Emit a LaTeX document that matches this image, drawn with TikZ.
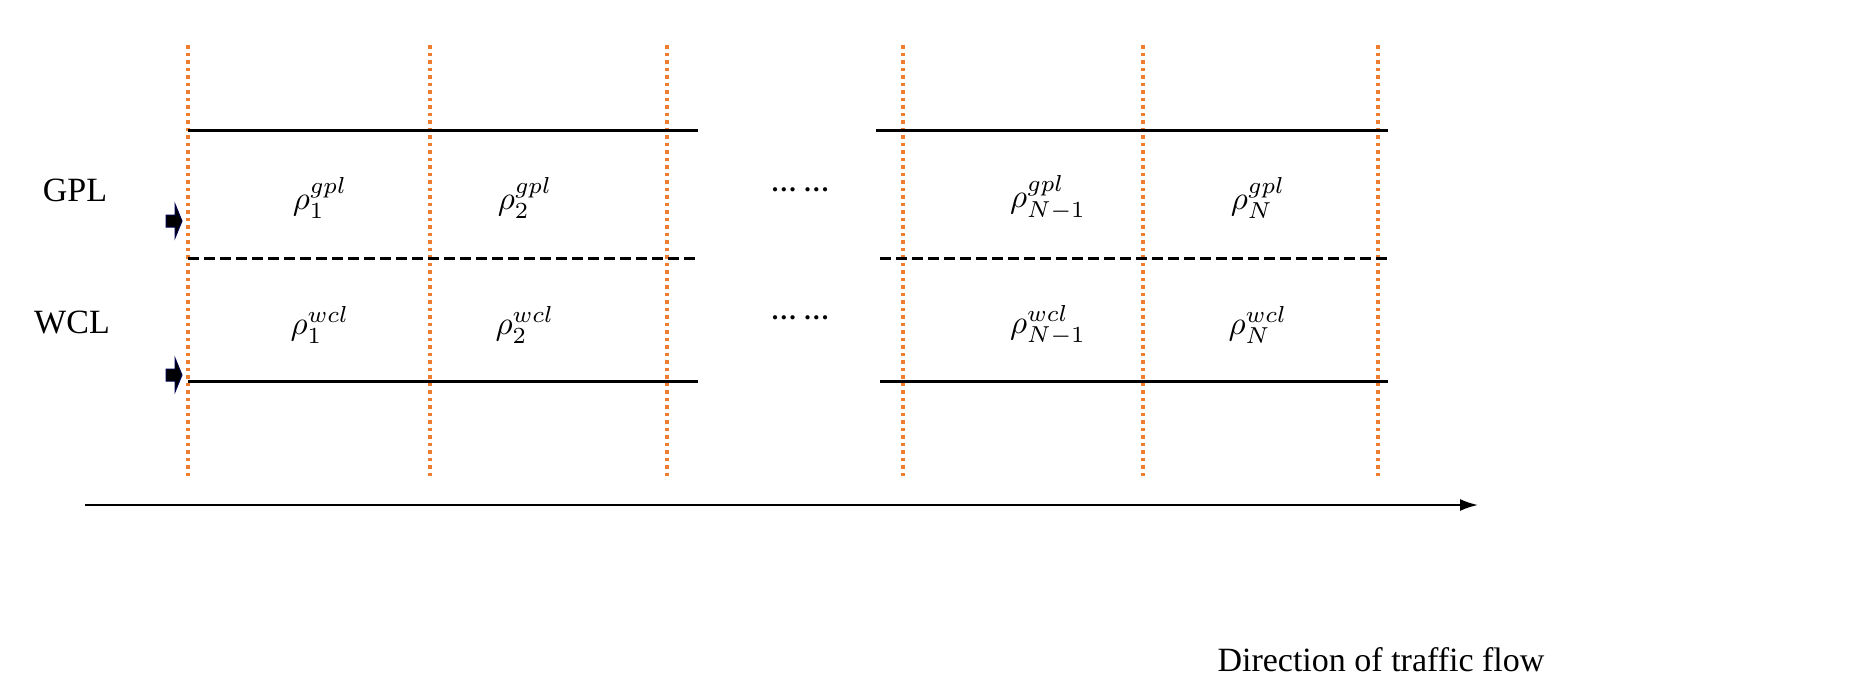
\documentclass[tikz,border=0pt]{standalone}
\usepackage{fontspec}
\setmainfont{Liberation Serif}
\usetikzlibrary{arrows.meta}
\definecolor{org}{RGB}{237,125,49}
\begin{document}
\begin{tikzpicture}[x=1pt,y=-1pt,
  grid/.style={org,line width=3.5pt,dash pattern=on 3.5pt off 4pt},
  lane/.style={black,line width=3pt},
  mid/.style={black,line width=3pt,dash pattern=on 11pt off 5pt},
  lbl/.style={scale=3.3},
  txt/.style={font=\fontsize{34}{40}\selectfont},
  blk/.style={fill=black,draw=black!70!blue,line width=1pt}]
\useasboundingbox (0,0) rectangle (1850,689);
\foreach \x/\n in {188/a,430/b,667/c,903/d,1143/e,1378/f}
  \draw[grid] (\x,45) coordinate (\n t) -- (\x,478) coordinate (\n b);
\coordinate (l1) at (188,130); \coordinate (l2) at (698,130);
\coordinate (r1) at (876,130); \coordinate (r2) at (1388,130);
\coordinate (l3) at (188,258); \coordinate (l4) at (698,258);
\coordinate (r3) at (880,258); \coordinate (r4) at (1392,258);
\coordinate (l5) at (188,381); \coordinate (l6) at (698,381);
\coordinate (r5) at (880,381); \coordinate (r6) at (1388,381);
\draw[lane] (l1)--(l2); \draw[lane] (r1)--(r2);
\draw[mid] (l3)--(l4); \draw[mid] (r3)--(r4);
\draw[lane] (l5)--(l6); \draw[lane] (r5)--(r6);
\node[txt] (gpl) at (75,190) {GPL};
\node[txt] (wcl) at (72,322) {WCL};
\foreach \y/\n in {221/ag,375/aw}
  \draw[blk] (166,\y-6) -- (175,\y-6) -- (175,\y-17) -- (182,\y) -- (175,\y+17) -- (175,\y+6) -- (166,\y+6) -- cycle;
\coordinate (ag) at (172,185); \coordinate (aw) at (172,322);
\begin{scope}[yshift=0]\end{scope}
\node[lbl] (g1) at (320,198) {$\rho_1^{gpl}$};
\node[lbl] (g2) at (525,198) {$\rho_2^{gpl}$};
\node[lbl] (g3) at (1048,198) {$\rho_{N-1}^{gpl}$};
\node[lbl] (g4) at (1258,198) {$\rho_N^{gpl}$};
\node[lbl] (w1) at (320,325) {$\rho_1^{wcl}$};
\node[lbl] (w2) at (525,325) {$\rho_2^{wcl}$};
\node[lbl] (w3) at (1048,325) {$\rho_{N-1}^{wcl}$};
\node[lbl] (w4) at (1258,325) {$\rho_N^{wcl}$};
\node[scale=2.6,font=\bfseries] (d1) at (800,190) {\dots\ \dots};
\node[scale=2.6,font=\bfseries] (d2) at (800,318) {\dots\ \dots};
\coordinate (s) at (85,505); \coordinate (e) at (1478,505);
\draw[line width=2pt,-{Latex[length=18pt,width=12pt]}] (s)--(e);
\node[txt,anchor=east] (dir) at (1548,660) {Direction of traffic flow};
\end{tikzpicture}
\end{document}
